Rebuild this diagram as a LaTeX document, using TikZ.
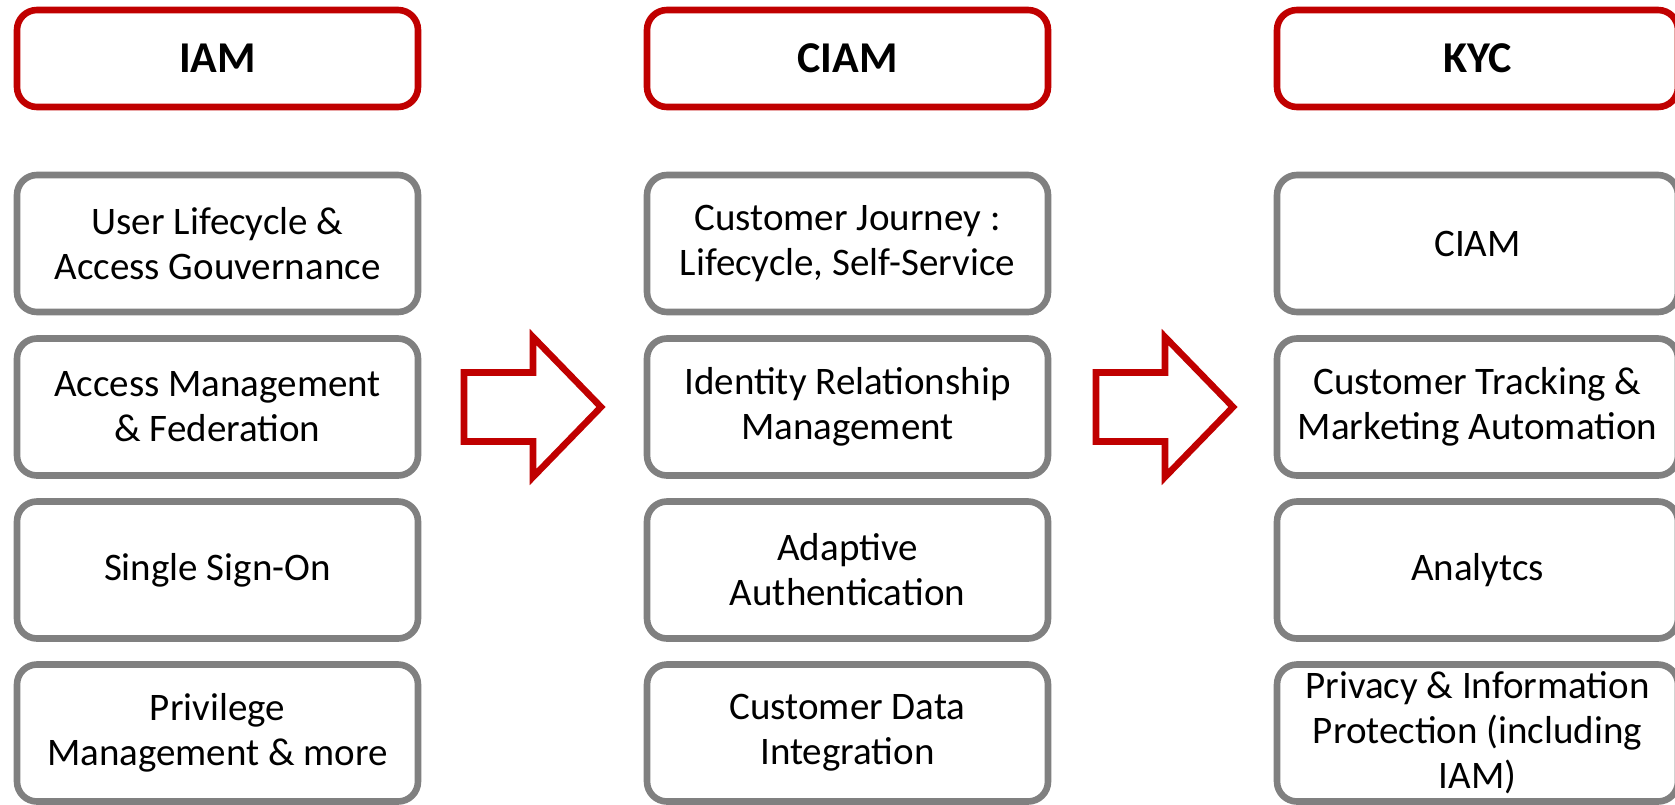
\documentclass[tikz,border=0pt]{standalone}
\usepackage{fontspec}
\setmainfont{Carlito}
\definecolor{hdred}{HTML}{C00000}
\definecolor{boxgray}{HTML}{808080}

\begin{document}
\begin{tikzpicture}[x=0.5pt,y=-0.5pt,
            every node/.style={align=center,font=\fontsize{19.5}{22.5}\selectfont},
            head/.style={draw=hdred,line width=3.3pt,rounded corners=10pt,
                minimum width=200.5pt,minimum height=48.5pt,
                font=\fontsize{22}{26}\selectfont\bfseries},
            item/.style={draw=boxgray,line width=3.3pt,rounded corners=10pt,
                minimum width=200.5pt,minimum height=68.5pt},
            blockarrow/.style={draw=hdred,line width=3.3pt},
            ]

            \useasboundingbox (0,0) rectangle (1675,804);

            % column headers
            \node[head] (iam)  at (217.5,58.5)  {IAM};
            \node[head] (ciam) at (847.5,58.5)  {CIAM};
            \node[head] (kyc)  at (1477.5,58.5) {KYC};

            % IAM
            \node[item] (iam1) at (217.5,243.5) {User Lifecycle \&\\Access Gouvernance};
            \node[item] (iam2) at (217.5,407)   {Access Management\\\& Federation};
            \node[item] (iam3) at (217.5,570)   {Single Sign-On};
            \node[item] (iam4) at (217.5,733)   {Privilege\\Management \& more};

            % CIAM
            \node[item] (ciam1) at (847.5,243.5) {Customer Journey :\\Lifecycle, Self-Service};
            \node[item] (ciam2) at (847.5,407)   {Identity Relationship\\Management};
            \node[item] (ciam3) at (847.5,570)   {Adaptive\\Authentication};
            \node[item] (ciam4) at (847.5,733)   {Customer Data\\Integration};

            % KYC
            \node[item] (kyc1) at (1477.5,243.5) {CIAM};
            \node[item] (kyc2) at (1477.5,407)   {Customer Tracking \&\\Marketing Automation};
            \node[item] (kyc3) at (1477.5,570)   {Analytcs};
            \node[item] (kyc4) at (1477.5,733)   {Privacy \& Information\\Protection (including\\IAM)};

            % arrows between the columns
            \coordinate (arr1) at (533,407);
            \coordinate (arr2) at (1165,407);
            \draw[blockarrow,shift={(arr1)}] (-69,-34.5) -- (0,-34.5) -- (0,-70) -- (68,0)
                -- (0,70) -- (0,34.5) -- (-69,34.5) -- cycle;
            \draw[blockarrow,shift={(arr2)}] (-69,-34.5) -- (0,-34.5) -- (0,-70) -- (68,0)
                -- (0,70) -- (0,34.5) -- (-69,34.5) -- cycle;
        \end{tikzpicture}
\end{document}
